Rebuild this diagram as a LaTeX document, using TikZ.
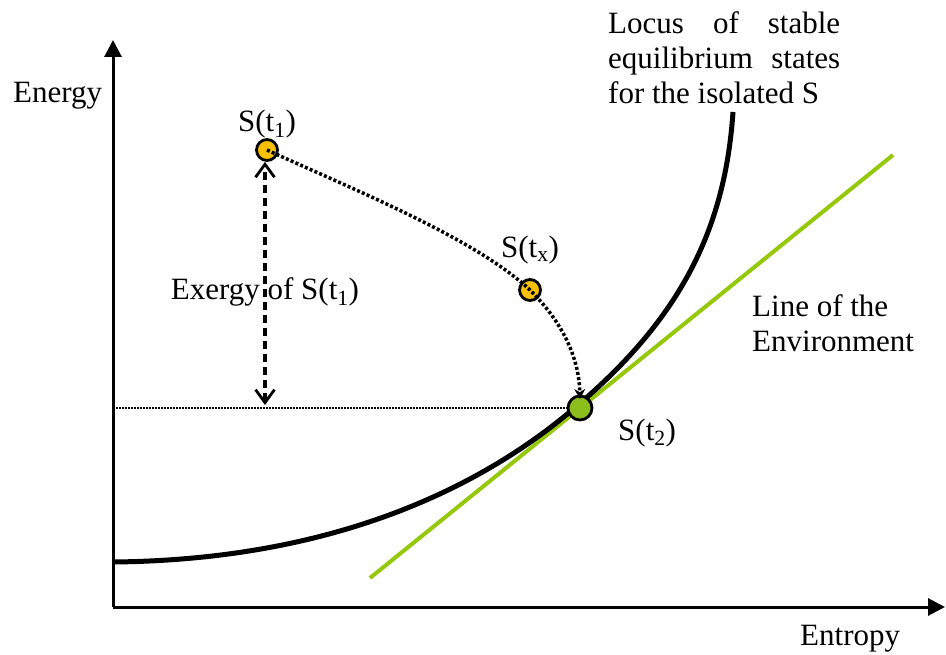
\documentclass[tikz,border=0pt]{standalone}
\usepackage{fontspec}
\setmainfont{Liberation Serif}
\usetikzlibrary{arrows.meta,calc}

\definecolor{envgreen}{RGB}{150,200,10}
\definecolor{stategreen}{RGB}{140,190,30}
\definecolor{stateyellow}{RGB}{247,192,0}

\tikzset{
  lbl/.style={inner sep=0pt, font=\fontsize{31}{35}\selectfont},
  axis/.style={line width=3pt, -{Triangle[length=17pt,width=17pt]}},
  statept/.style={circle, draw=black, line width=2.8pt, minimum size=21pt, inner sep=0pt},
  pathdots/.style={line width=3.5pt, dash pattern=on 3pt off 2.2pt},
  guidedots/.style={line width=1.5pt, dash pattern=on 1.5pt off 1.5pt},
  exergyarrow/.style={line width=3.2pt, dash pattern=on 8pt off 5pt,
    {Straight Barb[length=13pt,width=19pt,line width=2.8pt]}-{Straight Barb[length=13pt,width=19pt,line width=2.8pt]}},
}

\begin{document}
\begin{tikzpicture}[x=1pt,y=-1pt]
  \useasboundingbox (0,0) rectangle (946,655);

  % axes
  \coordinate (origin) at (113,607);
  \coordinate (ytip) at (113,40);
  \coordinate (xtip) at (945,607);
  \draw[axis] (origin) -- (ytip);
  \draw[axis] (origin) -- (xtip);
  \node[lbl, anchor=base west] (elabel) at (13,103) {Energy};
  \node[lbl, anchor=base west] (slabel) at (800,645) {Entropy};

  % line of the environment
  \coordinate (envA) at (370,578);
  \coordinate (envB) at (893,155);
  \draw[envgreen, line width=4pt] (envA) -- (envB);

  % locus of stable equilibrium states
  \coordinate (locA) at (113,562);
  \coordinate (locB) at (733,112);
  \draw[line width=5pt] (locA) .. controls (330,560) and (480,490) .. (578,405)
                               .. controls (680,318) and (725,230) .. (locB);

  % states
  \node[statept, fill=stateyellow] (t1) at (267,150) {};
  \node[statept, fill=stateyellow] (tx) at (530,290) {};
  \node[statept, fill=stategreen, minimum size=24pt] (t2) at (580,408) {};

  \node[lbl, anchor=base] (t1lbl) at (267,132) {S(t\textsubscript{1})};
  \node[lbl, anchor=base] (txlbl) at (530,258) {S(t\textsubscript{x})};
  \node[lbl, anchor=base west] (t2lbl) at (618,440) {S(t\textsubscript{2})};

  % level of the final state
  \draw[guidedots] (origin |- t2) -- (t2.west);

  % exergy
  \coordinate (exbase) at (265,405);
  \draw[exergyarrow] (exbase) -- (t1.south -| exbase);
  \node[lbl, anchor=base] (exlbl) at (265,300) {Exergy of S(t\textsubscript{1})};

  % process path
  \draw[pathdots, -{Stealth[length=10pt,width=11pt]}]
    (t1.center) .. controls (350,188) and (475,238) .. (tx.center)
    .. controls (565,325) and (579,360) .. ($(t2.center)+(0,-9)$);

  % annotations
  \node[lbl, anchor=north west, align=left] (loclbl) at (608,11)
    {\makebox[232pt][s]{Locus of stable}\\
     \makebox[232pt][s]{equilibrium states}\\
     for the isolated S};
  \node[lbl, anchor=north west, align=left] (envlbl) at (752,294)
    {Line of the\\Environment};
\end{tikzpicture}
\end{document}
